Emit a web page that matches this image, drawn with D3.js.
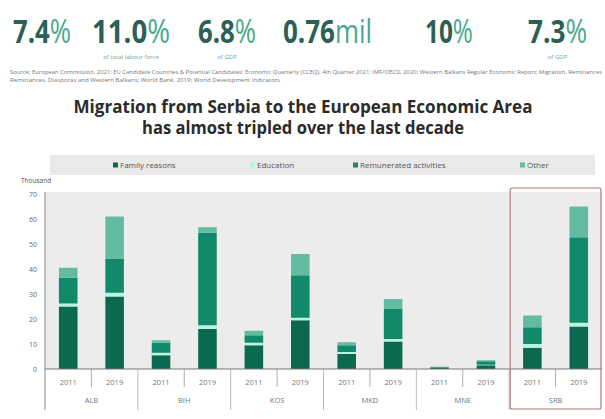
<!DOCTYPE html>
<html>
<head>
<meta charset="utf-8">
<script src="https://cdn.jsdelivr.net/npm/d3@7"></script>
<style>
  html, body { margin: 0; padding: 0; background: #ffffff; }
  svg { display: block; font-family: "Open Sans", "Noto Sans", sans-serif; }
</style>
</head>
<body>
<svg id="chart" width="605" height="419"></svg>
<script>
// ---------- data ----------
const countries = ["ALB", "BIH", "KOS", "MKD", "MNE", "SRB"];
const years = ["2011", "2019"];
const seriesNames = ["Family reasons", "Education", "Remunerated activities", "Other"];
// values in thousand, order: ALB11, ALB19, BIH11, BIH19, KOS11, KOS19, MKD11, MKD19, MNE11, MNE19, SRB11, SRB19
const familyReasons = [25, 29, 5.5, 16, 9.5, 19.5, 6, 11, 0.4, 1.5, 8.5, 17];
const education     = [1.2, 1.5, 1.0, 1.5, 1.0, 1.0, 0.8, 1.0, 0.1, 0.2, 1.5, 1.5];
const remunerated   = [10.3, 13.5, 4.0, 37, 3.0, 17, 2.7, 12, 0.3, 1.4, 6.7, 34.2];
const other         = [4.0, 17, 1.0, 2.2, 1.8, 8.5, 1.2, 4, 0.1, 0.4, 4.7, 12.3];
const yTicks = [0, 10, 20, 30, 40, 50, 60, 70];

const headlineNumbers = ["7.4", "11.0", "6.8", "0.76", "10", "7.3"];
const headlineUnits = ["%", "%", "%", "mil", "%", "%"];
const headlineNotes = ["", "of total labour force", "of GDP", "", "", "of GDP"];
const sourceLines = [
  "Source: European Commission, 2021; EU Candidate Countries & Potential Candidates' Economic Quarterly (CCEQ), 4th Quarter 2021; IMF/OECD, 2020; Western Balkans Regular Economic Report; Migration, Remittances",
  "Remittances, Diasporas and Western Balkans; World Bank, 2019; World Development Indicators"
];
const titleLines = ["Migration from Serbia to the European Economic Area", "has almost tripled over the last decade"];

// ---------- build table ----------
const rows = [];
countries.forEach((c, ci) => years.forEach((y, yi) => {
  const i = ci * 2 + yi;
  rows.push({ country: c, year: y,
    "Family reasons": familyReasons[i], "Education": education[i],
    "Remunerated activities": remunerated[i], "Other": other[i] });
}));

const colors = d3.scaleOrdinal().domain(seriesNames)
  .range(["#0b6950", "#b9f3df", "#108a6b", "#63bba1"]);

const svg = d3.select("#chart");

// ---------- headline figures ----------
const headX = [13, 92, 198, 283, 425, 528];
const headW = [58, 78, 58, 89, 48, 59];
headlineNumbers.forEach((num, i) => {
  const g = svg.append("g");
  const tn = g.append("text").attr("x", 0).attr("y", 0)
    .attr("font-size", 33).attr("font-weight", 700).attr("fill", "#2c5f55").text(num);
  const nLen = tn.node().getComputedTextLength();
  const tu = g.append("text").attr("x", nLen).attr("y", 0)
    .attr("font-size", 33).attr("font-weight", 400).attr("fill", "#4aa88c").text(headlineUnits[i]);
  const uLen = tu.node().getComputedTextLength();
  const sx = headW[i] / (nLen + uLen);
  g.attr("transform", `translate(${headX[i]},43) scale(${sx},1)`);
  if (headlineNotes[i]) {
    svg.append("text").attr("x", headX[i] + headW[i] / 2).attr("y", 59)
      .attr("text-anchor", "middle").attr("font-size", 6).attr("fill", "#6aa898")
      .text(headlineNotes[i]);
  }
});
sourceLines.forEach((s, i) => {
  svg.append("text").attr("x", 10).attr("y", 74 + i * 8)
    .attr("font-size", 4.6).attr("fill", "#777")
    .attr("textLength", i === 0 ? 592 : 270).attr("lengthAdjust", "spacingAndGlyphs")
    .text(s);
});

// ---------- title ----------
const titleW = [459, 322];
titleLines.forEach((s, i) => {
  svg.append("text").attr("x", 303).attr("y", 113 + i * 21)
    .attr("text-anchor", "middle").attr("font-size", 17).attr("font-weight", 700)
    .attr("fill", "#2b2b2b")
    .attr("textLength", titleW[i]).attr("lengthAdjust", "spacingAndGlyphs")
    .text(s);
});

// ---------- legend ----------
svg.append("rect").attr("x", 50).attr("y", 155).attr("width", 545).attr("height", 20)
  .attr("fill", "#e9e9e9");
const legX = [113, 250, 353, 520];
seriesNames.forEach((s, i) => {
  const g = svg.append("g").attr("transform", `translate(${legX[i]},165)`);
  g.append("rect").attr("x", 0).attr("y", -2.5).attr("width", 5).attr("height", 5)
    .attr("fill", colors(s));
  g.append("text").attr("x", 7).attr("y", 3).attr("font-size", 8).attr("fill", "#555").text(s);
});

// ---------- scales ----------
const plotLeft = 45, plotRight = 602, plotTop = 192, baseY = 369;
const x0 = d3.scaleBand().domain(countries).range([plotLeft, plotRight]).padding(0);
const x1 = d3.scaleBand().domain(years).range([0, x0.bandwidth()])
  .paddingInner(0.6).paddingOuter(0.3);
const y = d3.scaleLinear().domain([0, 70]).range([baseY, baseY - 175]);

// plot background
svg.append("rect").attr("x", plotLeft).attr("y", plotTop)
  .attr("width", plotRight - plotLeft).attr("height", baseY - plotTop).attr("fill", "#ececec");

// "Thousand"
svg.append("text").attr("x", 21).attr("y", 183).attr("font-size", 6.5).attr("fill", "#555").text("Thousand");

// y axis
const yAxis = d3.axisLeft(y).tickValues(yTicks).tickSize(0).tickPadding(8);
const yg = svg.append("g").attr("transform", `translate(${plotLeft},0)`).call(yAxis);
yg.select(".domain").remove();
yg.selectAll("text").attr("font-size", 7).attr("fill", "#666").attr("font-family", "Open Sans, sans-serif");

// stacked bars
const stack = d3.stack().keys(seriesNames);
const stacked = stack(rows);
svg.append("g").selectAll("g").data(stacked).join("g")
  .attr("fill", d => colors(d.key))
  .selectAll("rect").data(d => d).join("rect")
  .attr("x", d => x0(d.data.country) + x1(d.data.year))
  .attr("width", x1.bandwidth())
  .attr("y", d => y(d[1]))
  .attr("height", d => Math.max(0, y(d[0]) - y(d[1])));

// axis lines
svg.append("line").attr("x1", plotLeft).attr("x2", plotRight).attr("y1", baseY).attr("y2", baseY)
  .attr("stroke", "#777").attr("stroke-width", 1);
svg.append("line").attr("x1", plotLeft).attr("x2", plotLeft).attr("y1", plotTop).attr("y2", 410)
  .attr("stroke", "#888").attr("stroke-width", 1);

// x axis labels & separators
const xg = svg.append("g");
countries.forEach((c, i) => {
  const gx = x0(c);
  const bw = x0.bandwidth();
  if (i > 0) {
    xg.append("line").attr("x1", gx).attr("x2", gx).attr("y1", baseY).attr("y2", 410)
      .attr("stroke", "#aaa").attr("stroke-width", 0.8);
  }
  xg.append("line").attr("x1", gx + bw / 2).attr("x2", gx + bw / 2).attr("y1", baseY).attr("y2", 387)
    .attr("stroke", "#999").attr("stroke-width", 0.8);
  years.forEach(yr => {
    xg.append("text").attr("x", gx + x1(yr) + x1.bandwidth() / 2).attr("y", 385)
      .attr("text-anchor", "middle").attr("font-size", 7.5).attr("fill", "#777").text(yr);
  });
  xg.append("text").attr("x", gx + bw / 2).attr("y", 403)
    .attr("text-anchor", "middle").attr("font-size", 7.5).attr("fill", "#777").text(c);
});

// highlight box around SRB
svg.append("rect").attr("x", x0("SRB") + 1).attr("y", 188)
  .attr("width", x0.bandwidth() - 2).attr("height", 221)
  .attr("fill", "none").attr("stroke", "#b07b78").attr("stroke-width", 1.2).attr("rx", 2);
</script>
</body>
</html>
